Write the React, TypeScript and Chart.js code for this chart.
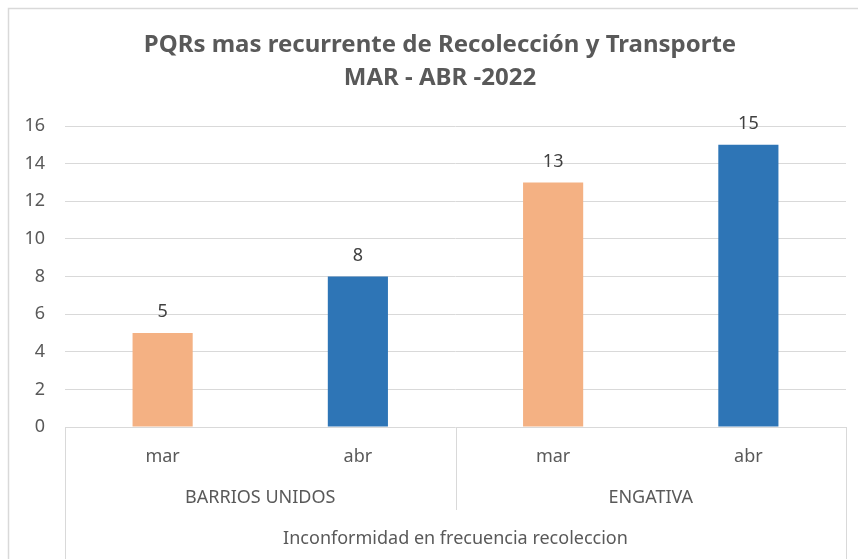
import React, { useEffect, useRef } from "react";
import { Chart, registerables } from "chart.js";

Chart.register(...registerables);

const titleLines = ["PQRs mas recurrente de Recolección y Transporte", "MAR - ABR -2022"];
const months = ["mar", "abr", "mar", "abr"];
const groups = ["BARRIOS UNIDOS", "ENGATIVA"];
const groupSizes = [2, 2];
const topCategory = "Inconformidad en frecuencia recoleccion";
const values = [5, 8, 13, 15];
const barColors = ["#F4B183", "#2E75B6", "#F4B183", "#2E75B6"];
const yTicks = [0, 2, 4, 6, 8, 10, 12, 14, 16];

const FONT = "'Noto Sans', sans-serif";
const TEXT = "#595959";
const LINE = "#D9D9D9";

const decor = {
  id: "decor",
  afterDraw(chart: any) {
    const ctx = chart.ctx;
    const area = chart.chartArea;
    const x = chart.scales.x;
    ctx.save();
    // frame
    ctx.strokeStyle = LINE;
    ctx.lineWidth = 1.5;
    ctx.beginPath();
    ctx.moveTo(8.5, 559);
    ctx.lineTo(8.5, 8.5);
    ctx.lineTo(858, 8.5);
    ctx.stroke();

    // title
    ctx.fillStyle = TEXT;
    ctx.textAlign = "center";
    ctx.textBaseline = "middle";
    ctx.font = `bold 24px ${FONT}`;
    ctx.fillText(titleLines[0], 440, 45);
    ctx.fillText(titleLines[1], 440, 78);

    // value labels
    const meta = chart.getDatasetMeta(0);
    ctx.font = `18px ${FONT}`;
    ctx.fillStyle = "#404040";
    meta.data.forEach((bar: any, i: number) => {
      ctx.fillText(String(values[i]), bar.x, bar.y - 21);
    });

    // category hierarchy
    const n = months.length;
    const step = (area.right - area.left) / n;
    const left = area.left;
    const right = area.right;
    const bottom = area.bottom;
    ctx.strokeStyle = LINE;
    ctx.lineWidth = 1;
    ctx.beginPath();
    ctx.moveTo(Math.round(left) + 0.5, bottom);
    ctx.lineTo(Math.round(left) + 0.5, 559);
    ctx.moveTo(Math.round(right) + 0.5, bottom);
    ctx.lineTo(Math.round(right) + 0.5, 559);
    let idx = 0;
    for (let g = 0; g < groupSizes.length - 1; g++) {
      idx += groupSizes[g];
      const gx = Math.round(left + idx * step) + 0.5;
      ctx.moveTo(gx, bottom);
      ctx.lineTo(gx, bottom + 83);
    }
    ctx.stroke();

    ctx.fillStyle = TEXT;
    ctx.font = `18px ${FONT}`;
    months.forEach((m, i) => {
      ctx.fillText(m, x.getPixelForValue(i), bottom + 30);
    });
    let start = 0;
    groups.forEach((g, gi) => {
      const s = left + start * step;
      const e = left + (start + groupSizes[gi]) * step;
      ctx.fillText(g, (s + e) / 2, bottom + 71);
      start += groupSizes[gi];
    });
    ctx.fillText(topCategory, (left + right) / 2, bottom + 112);
    ctx.restore();
  },
};

export default function App() {
  const ref = useRef<HTMLCanvasElement>(null);
  useEffect(() => {
    const chart = new Chart(ref.current!, {
      type: "bar",
      data: {
        labels: months,
        datasets: [
          {
            data: values,
            backgroundColor: barColors,
            borderWidth: 0,
            categoryPercentage: 1,
            barPercentage: 0.308,
          },
        ],
      },
      options: {
        animation: false,
        responsive: false,
        layout: { padding: { left: 8, right: 12, top: 126, bottom: 0 } },
        plugins: { legend: { display: false }, title: { display: false }, tooltip: { enabled: false } },
        scales: {
          x: {
            ticks: { display: false },
            grid: { display: false },
            border: { display: false },
            afterFit: (s: any) => {
              s.height = 132;
            },
          },
          y: {
            min: 0,
            max: 16,
            afterBuildTicks: (s: any) => {
              s.ticks = yTicks.map((v) => ({ value: v }));
            },
            ticks: { color: TEXT, font: { family: FONT, size: 18 }, padding: 20 },
            grid: { color: LINE, lineWidth: 1, drawTicks: false },
            border: { display: false },
            afterFit: (s: any) => {
              s.width = 57;
            },
          },
        },
      },
      plugins: [decor],
    });
    return () => chart.destroy();
  }, []);
  return (
    <div style={{ position: "fixed", left: 0, top: 0, width: 858, height: 559, background: "#fff" }}>
      <canvas ref={ref} width={858} height={559} style={{ display: "block" }} />
    </div>
  );
}
